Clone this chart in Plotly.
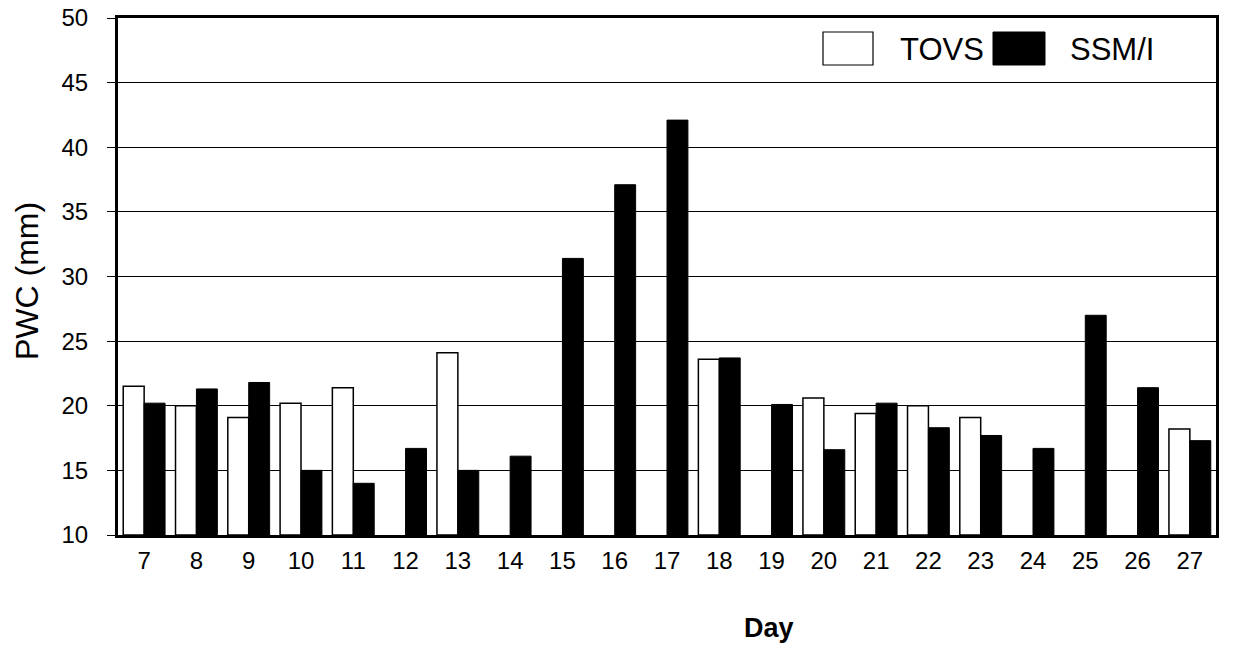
import plotly.graph_objects as go

days = [str(d) for d in range(7, 28)]
tovs = [21.5, 20.0, 19.1, 20.2, 21.4, None, 24.1, None, None, None, None,
        23.6, None, 20.6, 19.4, 20.0, 19.1, None, None, None, 18.2]
ssmi = [20.2, 21.3, 21.8, 15.0, 14.0, 16.7, 15.0, 16.1, 31.4, 37.1, 42.1,
        23.7, 20.1, 16.6, 20.2, 18.3, 17.7, 16.7, 27.0, 21.4, 17.3]
yticks = [10, 15, 20, 25, 30, 35, 40, 45, 50]

FONT = "Arial, Liberation Sans, Helvetica, sans-serif"
L, R, T, B = 118, 28, 18, 125
PW, PH = 1244 - L - R, 660 - T - B

def px(x):
    return (x - L) / PW

def py(y):
    return 1 - (y - T) / PH

fig = go.Figure()
fig.add_trace(go.Bar(x=days, y=[None if v is None else v - 10 for v in tovs], base=10,
                     name="TOVS", marker=dict(color="white", line=dict(color="black", width=1.5)),
                     showlegend=False))
fig.add_trace(go.Bar(x=days, y=[v - 10 for v in ssmi], base=10,
                     name="SSM/I", marker=dict(color="black", line=dict(color="black", width=1)),
                     showlegend=False))

# manual legend
fig.add_shape(type="rect", xref="paper", yref="paper", x0=px(823), x1=px(873), y0=py(65), y1=py(32),
              fillcolor="white", line=dict(color="black", width=1.2))
fig.add_annotation(xref="paper", yref="paper", x=px(898), y=py(49), text="TOVS", showarrow=False,
                   xanchor="left", yanchor="middle", font=dict(family=FONT, size=31, color="black"))
fig.add_shape(type="rect", xref="paper", yref="paper", x0=px(993), x1=px(1045), y0=py(65), y1=py(32),
              fillcolor="black", line=dict(color="black", width=1))
fig.add_annotation(xref="paper", yref="paper", x=px(1068), y=py(49), text="SSM/I", showarrow=False,
                   xanchor="left", yanchor="middle", font=dict(family=FONT, size=31, color="black"))

# axis titles
fig.add_annotation(xref="paper", yref="paper", x=px(769), y=py(628), text="<b>Day</b>", showarrow=False,
                   xanchor="center", yanchor="middle", font=dict(family=FONT, size=27, color="black"))
fig.add_annotation(xref="paper", yref="paper", x=px(27), y=py(281), text="PWC (mm)", showarrow=False,
                   textangle=-90, xanchor="center", yanchor="middle",
                   font=dict(family=FONT, size=32, color="black"))

fig.update_layout(
    width=1244, height=660,
    margin=dict(l=L, r=R, t=T, b=B),
    paper_bgcolor="white", plot_bgcolor="white",
    barmode="group", bargap=0.2, bargroupgap=0.0,
    font=dict(family=FONT, color="black"),
)
fig.update_xaxes(
    type="category", showgrid=False, showline=True, linecolor="black", linewidth=3,
    mirror=True, ticks="", tickfont=dict(size=24), ticklabelstandoff=2, automargin=False,
)
fig.update_yaxes(
    range=[10, 50], tickvals=yticks, showgrid=True, gridcolor="black", gridwidth=1,
    showline=True, linecolor="black", linewidth=3, mirror=True,
    ticks="outside", ticklen=8, tickcolor="black", tickwidth=1,
    tickfont=dict(size=24), ticklabelstandoff=14, zeroline=False, automargin=False,
)

fig.write_html("out.html")
